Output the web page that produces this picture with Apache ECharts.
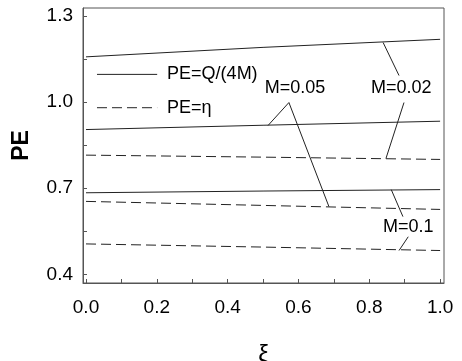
<!DOCTYPE html>
<html>
<head>
<meta charset="utf-8">
<script src="https://cdn.jsdelivr.net/npm/echarts@6/dist/echarts.min.js"></script>
<style>
  html, body { margin: 0; padding: 0; background: #fff; }
  #chart { width: 462px; height: 361px; }
</style>
</head>
<body>
<div id="chart"></div>
<script>
// xi values and PE curves
const xi = [0, 0.5, 1.0];
const peQ_M002 = [1.157, 1.190, 1.218];
const peQ_M005 = [0.904, 0.919, 0.933];
const peQ_M01 = [0.684, 0.690, 0.695];
const peEta_M002 = [0.815, 0.808, 0.800];
const peEta_M005 = [0.654, 0.640, 0.626];
const peEta_M01 = [0.506, 0.495, 0.483];

const xLabels = [0, 0.2, 0.4, 0.6, 0.8, 1.0];
const xTicks = [0, 0.1, 0.2, 0.3, 0.4, 0.5, 0.6, 0.7, 0.8, 0.9, 1.0];
const yLabels = [0.4, 0.7, 1.0, 1.3];
const yTicks = [0.4, 0.55, 0.7, 0.85, 1.0, 1.15, 1.3];

const legendNames = ['PE=Q/(4M)', 'PE=\u03b7'];
const curveLabels = ['M=0.02', 'M=0.05', 'M=0.1'];

const FONT = '"Liberation Sans", Arial, sans-serif';
const INK = '#222';
const DASH = [10, 5];

const chart = echarts.init(document.getElementById('chart'));

const pairs = arr => xi.map((x, i) => [x, arr[i]]);

function curve(name, arr, dashed) {
  return {
    name: name,
    type: 'line',
    data: pairs(arr),
    symbol: 'none',
    silent: true,
    animation: false,
    lineStyle: { color: INK, width: 1, type: dashed ? DASH : 'solid' }
  };
}

chart.setOption({
  backgroundColor: '#fff',
  animation: false,
  grid: {
    left: 83, right: 18, top: 8, bottom: 78,
    outerBoundsMode: 'none',
    show: true, borderColor: '#555', borderWidth: 1
  },
  xAxis: {
    type: 'value',
    min: -0.0085,
    max: 1.011,
    name: '\u03be',
    nameLocation: 'middle',
    nameGap: 60,
    nameTextStyle: { fontFamily: FONT, fontSize: 24, color: '#000' },
    axisLine: { show: true, onZero: false, lineStyle: { color: '#555' } },
    axisTick: { show: true, inside: true, length: 4, customValues: xTicks, lineStyle: { color: '#555' } },
    axisLabel: {
      customValues: xLabels, margin: 15, color: '#000', fontFamily: FONT, fontSize: 19,
      formatter: v => v.toFixed(1)
    },
    splitLine: { show: false }
  },
  yAxis: {
    type: 'value',
    min: 0.37,
    max: 1.327,
    name: 'PE',
    nameLocation: 'middle',
    nameRotate: 90,
    nameGap: 50,
    nameTextStyle: { fontFamily: FONT, fontSize: 23, fontWeight: 'bold', color: '#000' },
    axisLine: { show: true, onZero: false, lineStyle: { color: '#555' } },
    axisTick: { show: true, inside: true, length: 4, customValues: yTicks, lineStyle: { color: '#555' } },
    axisLabel: {
      customValues: yLabels, margin: 10, color: '#000', fontFamily: FONT, fontSize: 19,
      formatter: v => v.toFixed(1)
    },
    splitLine: { show: false }
  },
  series: [
    curve('Q M=0.02', peQ_M002, false),
    curve('Q M=0.05', peQ_M005, false),
    curve('Q M=0.1', peQ_M01, false),
    curve('eta M=0.02', peEta_M002, true),
    curve('eta M=0.05', peEta_M005, true),
    curve('eta M=0.1', peEta_M01, true)
  ]
});

// annotations placed in data coordinates, converted via the chart's scales
const px = (x, y) => chart.convertToPixel({ gridIndex: 0 }, [x, y]);

function seg(a, b, dashed) {
  const p = px(a[0], a[1]);
  const q = px(b[0], b[1]);
  return {
    type: 'line',
    silent: true,
    shape: { x1: p[0], y1: p[1], x2: q[0], y2: q[1] },
    style: { stroke: INK, lineWidth: 1, lineDash: dashed ? DASH : null }
  };
}

function label(text, at, align) {
  const p = px(at[0], at[1]);
  return {
    type: 'text',
    silent: true,
    x: p[0],
    y: p[1],
    style: {
      text: text, fill: '#000', font: '18px ' + FONT,
      textAlign: align || 'center', textVerticalAlign: 'middle'
    }
  };
}

const elements = [
  // legend
  seg([0.031, 1.096], [0.201, 1.096], false),
  seg([0.031, 0.980], [0.201, 0.980], true),
  label(legendNames[0], [0.229, 1.096], 'left'),
  label(legendNames[1], [0.229, 0.980], 'left'),
  // M=0.02
  label(curveLabels[0], [0.890, 1.050]),
  seg([0.839, 1.207], [0.884, 1.092]),
  seg([0.898, 0.998], [0.847, 0.803]),
  // M=0.05
  label(curveLabels[1], [0.590, 1.047]),
  seg([0.514, 0.918], [0.573, 0.998]),
  seg([0.573, 0.998], [0.686, 0.636]),
  // M=0.1
  label(curveLabels[2], [0.910, 0.566]),
  seg([0.862, 0.695], [0.895, 0.601]),
  seg([0.910, 0.531], [0.884, 0.483])
];

chart.setOption({ graphic: { elements: elements } });
</script>
</body>
</html>
